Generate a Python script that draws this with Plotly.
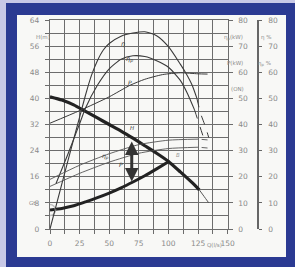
import numpy as np
import plotly.graph_objects as go

# ---------------- data ----------------
# pump head curve H-Q (m)
Q_hq = [0, 10, 20, 30, 40, 50, 60, 70, 80, 90, 100, 110, 120, 126]
H_hq = [40.5, 39.5, 38.0, 36.0, 34.0, 32.0, 30.0, 27.8, 25.5, 23.2, 20.7, 17.5, 14.2, 12.0]
Q_hq_tail = [126, 130, 134]
H_hq_tail = [12.0, 10.0, 8.0]
# system curve (m)
Q_sys = [0, 10, 20, 30, 40, 50, 60, 70, 80, 90, 101]
H_sys = [5.8, 6.3, 7.1, 8.3, 9.6, 11.0, 12.6, 14.4, 16.3, 18.4, 20.8]
# efficiency eta (%)
Q_eta = [0, 10, 20, 25, 30, 35, 40, 45, 50, 60, 70, 80, 90, 100, 110, 115, 120, 124]
eta = [0, 17.3, 34.4, 42.8, 51.3, 58.8, 64.4, 68.5, 71.0, 73.8, 75.0, 75.5, 74.0, 69.8, 63.1, 59.4, 55.0, 50.0]
Q_eta_tail = [124, 127, 131, 134]
eta_tail = [50.0, 44.4, 39.4, 35.0]
# efficiency eta_p (%)
Q_etap = [5, 15, 20, 25, 30, 40, 50, 60, 70, 80, 90, 100, 110, 116, 122]
etap = [17.3, 28.5, 34.4, 40.3, 46.3, 55.0, 61.3, 65.0, 66.3, 66.0, 64.4, 61.9, 56.9, 51.9, 45.6]
Q_etap_tail = [122, 126, 130]
etap_tail = [45.6, 40.0, 34.4]
# power P (kW)
Q_P = [0, 25, 50, 67.5, 80, 95, 110, 125, 133]
P = [40.5, 45.3, 50.6, 55.0, 57.3, 59.1, 59.8, 59.4, 59.3]
# lower pair of thin curves
Q_low = [0, 25, 50, 75, 100, 125]
low1 = [19.0, 24.4, 28.8, 32.3, 34.0, 34.4]
low2 = [16.3, 21.3, 25.6, 29.0, 30.8, 31.3]
Q_low_tail = [128, 133]
low1_tail = [34.3, 34.1]
low2_tail = [31.2, 31.0]
# operating arrow position
Q_arrow = 69

# ticks
x_ticks = [0, 25, 50, 75, 100, 125, 150]
x_labels = ["0", "25", "50", "75", "100", "125", "150"]
y_ticks = list(range(0, 65, 8))
y_labels = [str(v) for v in y_ticks]
y2_ticks = list(range(0, 81, 10))
y2_labels = [str(v) for v in y2_ticks]

# ---------------- style ----------------
W, H = 295, 267
ML, MR, MT, MB = 50, 37, 20, 38
PW, PH = W - ML - MR, H - MT - MB
XDOM = (227.7 - ML) / PW

def px(x):
    return (x - ML) / PW

def py(y):
    return (H - MB - y) / PH

BLUE = "#2b3a92"
LAV = "#c8c8e6"
PAPER = "#f8f8f6"
GRID = "#6c6c6c"
INK = "#3a3a3a"
TXT = "#8a8a8a"
FONT = "DejaVu Sans"

fig = go.Figure()

def line(xs, ys, width, color=INK, dash=None, yaxis="y"):
    fig.add_trace(go.Scatter(x=xs, y=ys, mode="lines", yaxis=yaxis,
                             line=dict(color=color, width=width, dash=dash, shape="spline", smoothing=0.6),
                             hoverinfo="skip", showlegend=False))

line(Q_eta, eta, 1.1, yaxis="y2")
line(Q_eta_tail, eta_tail, 1.0, dash="dash", yaxis="y2")
line(Q_etap, etap, 1.1, yaxis="y2")
line(Q_etap_tail, etap_tail, 1.0, dash="dash", yaxis="y2")
line(Q_P, P, 1.0, yaxis="y2")
line(Q_low, low1, 0.9, color="#555", yaxis="y2")
line(Q_low, low2, 0.9, color="#555", yaxis="y2")
line(Q_low_tail, low1_tail, 0.9, color="#555", yaxis="y2")
line(Q_low_tail, low2_tail, 0.9, color="#555", yaxis="y2")
line(Q_hq, H_hq, 3.2, color="#222")
line(Q_hq_tail, H_hq_tail, 1.0, color="#555")
line(Q_sys, H_sys, 3.0, color="#222")
fig.add_trace(go.Scatter(x=Q_sys[:1], y=H_sys[:1], mode="markers",
                         marker=dict(symbol="circle-open", size=11, color="#bdbdbd", line=dict(width=1.5)),
                         hoverinfo="skip", showlegend=False))

# operating arrow between the two thick curves
y_top = float(np.interp(Q_arrow, Q_hq, H_hq)) - 0.8
y_bot = float(np.interp(Q_arrow, Q_sys, H_sys)) + 0.3
fig.add_annotation(x=Q_arrow, y=y_bot, ax=Q_arrow, ay=y_top, xref="x", yref="y", axref="x", ayref="y",
                   showarrow=True, arrowhead=2, arrowside="end+start", arrowsize=0.9,
                   arrowwidth=3, arrowcolor="#333", text="")

shapes = [
    dict(type="rect", xref="paper", yref="paper", x0=px(0), x1=px(6), y0=py(H), y1=py(0),
         fillcolor=LAV, line=dict(width=0), layer="below"),
    dict(type="rect", xref="paper", yref="paper", x0=px(0), x1=px(W), y0=py(3), y1=py(0),
         fillcolor=LAV, line=dict(width=0), layer="below"),
    dict(type="rect", xref="paper", yref="paper", x0=px(17), x1=px(286), y0=py(257), y1=py(15),
         fillcolor=PAPER, line=dict(width=0), layer="below"),
]

def note(x, y, t, size=5.5, color=TXT, italic=False):
    fig.add_annotation(x=px(x), y=py(y), xref="paper", yref="paper", text=t, showarrow=False,
                       font=dict(family=FONT, size=size, color=color,
                                 style="italic" if italic else "normal"))

note(34, 32, "H(m)")
note(245, 32, "η<sub>p</sub>(kW)")
note(245, 58, "P(kW)")
note(246, 84, "(ON)")
note(273, 32, "η %")
note(273, 58, "η<sub>p</sub> %")
note(224, 250, "Q(l/s)")
note(27, 208, "Gt")
note(123, 38, "η", 6.5, INK, True)
note(129, 53, "η<sub>p</sub>", 6.5, INK, True)
note(130, 77, "P", 6, INK, True)
note(100, 156, "η<sub>p</sub>", 6, INK, True)
note(117, 170, "P", 6, INK, True)
note(132, 128, "H", 5.5, INK, True)
note(178, 160, "B", 5.5, "#999", True)

axis_common = dict(showgrid=True, gridcolor=GRID, gridwidth=1.2, showline=True, linecolor=GRID,
                   linewidth=1.2, mirror=True, ticks="outside", ticklen=4, tickcolor=GRID,
                   tickwidth=1.2, zeroline=False, tickfont=dict(family=FONT, size=7.5, color=TXT))

fig.update_layout(
    width=W, height=H, margin=dict(l=ML, r=MR, t=MT, b=MB, pad=0),
    paper_bgcolor=BLUE, plot_bgcolor="rgba(0,0,0,0)",
    shapes=shapes, showlegend=False,
    xaxis=dict(domain=[0, XDOM], range=[0, 150], tickmode="array", tickvals=x_ticks,
               ticktext=x_labels, ticklabelstandoff=3,
               minor=dict(dtick=12.5, tick0=0, showgrid=True, gridcolor=GRID, gridwidth=1.2,
                          ticks="outside", ticklen=4, tickcolor=GRID, tickwidth=1.2),
               **axis_common),
    yaxis=dict(range=[0, 64], tickmode="array", tickvals=y_ticks, ticktext=y_labels,
               ticklabelstandoff=4,
               minor=dict(dtick=4, tick0=0, showgrid=True, gridcolor=GRID, gridwidth=1.2,
                          ticks="outside", ticklen=4, tickcolor=GRID, tickwidth=1.2),
               **axis_common),
    yaxis2=dict(overlaying="y", side="right", anchor="x", range=[0, 80], tickmode="array",
                tickvals=y2_ticks, ticktext=y2_labels, showgrid=False, showline=False,
                ticks="outside", ticklen=4, tickcolor=GRID, tickwidth=1.2, zeroline=False,
                ticklabelstandoff=4, tickfont=dict(family=FONT, size=7.5, color=TXT)),
    yaxis3=dict(overlaying="y", side="right", anchor="free", position=1.0, range=[0, 80],
                tickmode="array", tickvals=y2_ticks, ticktext=y2_labels, showgrid=False,
                showline=True, linecolor="#666", linewidth=1.5, ticks="outside", ticklen=3,
                tickcolor="#666", tickwidth=1.2, zeroline=False, ticklabelstandoff=5,
                tickfont=dict(family=FONT, size=7.5, color=TXT)),
)
# dummy trace so yaxis3 is drawn
fig.add_trace(go.Scatter(x=[None], y=[None], yaxis="y3", showlegend=False, hoverinfo="skip"))

fig.write_html("out.html", config={"displayModeBar": False},
               post_script="document.body.style.margin='0';document.body.style.overflow='hidden';")
